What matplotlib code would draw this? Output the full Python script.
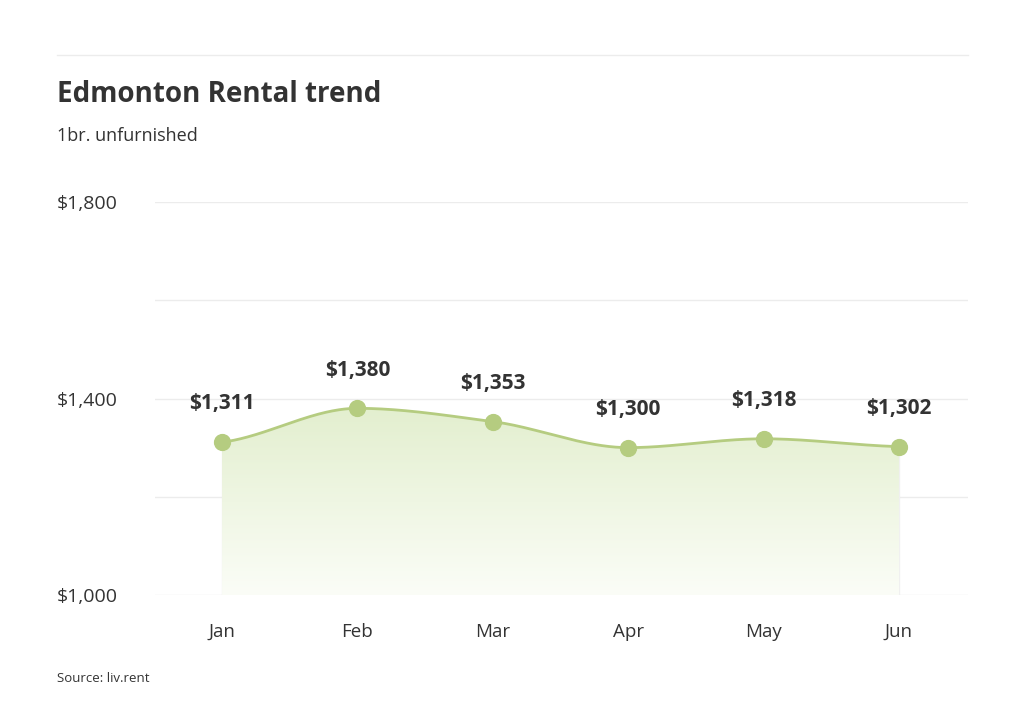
import numpy as np
import matplotlib.pyplot as plt
from matplotlib.patches import Polygon
from matplotlib.colors import LinearSegmentedColormap

months = ["Jan", "Feb", "Mar", "Apr", "May", "Jun"]
rent = [1311, 1380, 1353, 1300, 1318, 1302]
y_ticks = [1000, 1400, 1800]
y_grid = [1000, 1200, 1400, 1600, 1800]

green = "#b5cc80"
dark = "#333333"


def pchip(x, y, xs):
    # monotone cubic, keeps the curve smooth between points
    x = np.asarray(x, float)
    y = np.asarray(y, float)
    h = np.diff(x)
    d = np.diff(y) / h
    m = np.zeros_like(y)
    for i in range(1, len(y) - 1):
        if d[i - 1] * d[i] > 0:
            m[i] = 2 / (1 / d[i - 1] + 1 / d[i])
    m[0], m[-1] = d[0] * 0.5, d[-1] * 0.5
    out = np.empty_like(xs)
    for j, xv in enumerate(xs):
        i = min(np.searchsorted(x, xv, side="right") - 1, len(x) - 2)
        t = (xv - x[i]) / h[i]
        h00 = 2 * t**3 - 3 * t**2 + 1
        h10 = t**3 - 2 * t**2 + t
        h01 = -2 * t**3 + 3 * t**2
        h11 = t**3 - t**2
        out[j] = h00 * y[i] + h10 * h[i] * m[i] + h01 * y[i + 1] + h11 * h[i] * m[i + 1]
    return out


x = np.arange(len(months))
xs = np.linspace(0, len(months) - 1, 400)
ys = pchip(x, rent, xs)

fig = plt.figure(figsize=(10.24, 7.17), dpi=100)
plt.rcParams["font.family"] = "Open Sans"
ax = fig.add_axes([155 / 1024, 1 - 595 / 717, 813 / 1024, 393 / 717])
ax.set_xlim(-0.495, 5.51)
ax.set_ylim(1000, 1800)

for g in y_grid:
    ax.axhline(g, color="#ececec", lw=1, zorder=0)
for xi, v in zip(x, rent):
    ax.plot([xi, xi], [1000, v], color="#f0f0f0", lw=1, zorder=1)

# gradient fill under the curve
cmap = LinearSegmentedColormap.from_list("g", ["#fbfdf7", "#e3efcf"])
grad = np.linspace(0, 1, 256).reshape(-1, 1)
img = ax.imshow(grad, cmap=cmap, aspect="auto", origin="lower",
                extent=[0, 5, 1000, max(rent)], zorder=1)
poly = Polygon(np.column_stack([np.r_[xs, 5, 0], np.r_[ys, 1000, 1000]]),
               closed=True, facecolor="none", edgecolor="none")
ax.add_patch(poly)
img.set_clip_path(poly)

ax.plot(xs, ys, color=green, lw=2, zorder=3)
ax.scatter(x, rent, s=130, color=green, zorder=4)
for xi, v in zip(x, rent):
    ax.annotate(f"${v:,}", (xi, v), xytext=(0, 20), textcoords="offset points",
                ha="center", va="bottom", fontsize=15, fontweight="bold", color=dark)

ax.set_xticks(x)
ax.set_xticklabels(months, fontsize=13.5, color=dark)
ax.set_yticks(y_ticks)
ax.set_yticklabels([f"${t:,}" for t in y_ticks], fontsize=14, color=dark)
ax.tick_params(length=0)
ax.tick_params(axis="x", pad=20)
ax.tick_params(axis="y", pad=27)
for s in ax.spines.values():
    s.set_visible(False)

fig.add_artist(plt.Line2D([57 / 1024, 968 / 1024], [1 - 55 / 717] * 2,
                          color="#ececec", lw=1))
fig.text(57 / 1024, 1 - 94 / 717, "Edmonton Rental trend", fontsize=20,
         fontweight="bold", color=dark, va="center")
fig.text(57 / 1024, 1 - 136 / 717, "1br. unfurnished", fontsize=13,
         color=dark, va="center")
fig.text(57 / 1024, 1 - 678 / 717, "Source: liv.rent", fontsize=9.5,
         color=dark, va="center")

fig.savefig("out.png", dpi=100)
